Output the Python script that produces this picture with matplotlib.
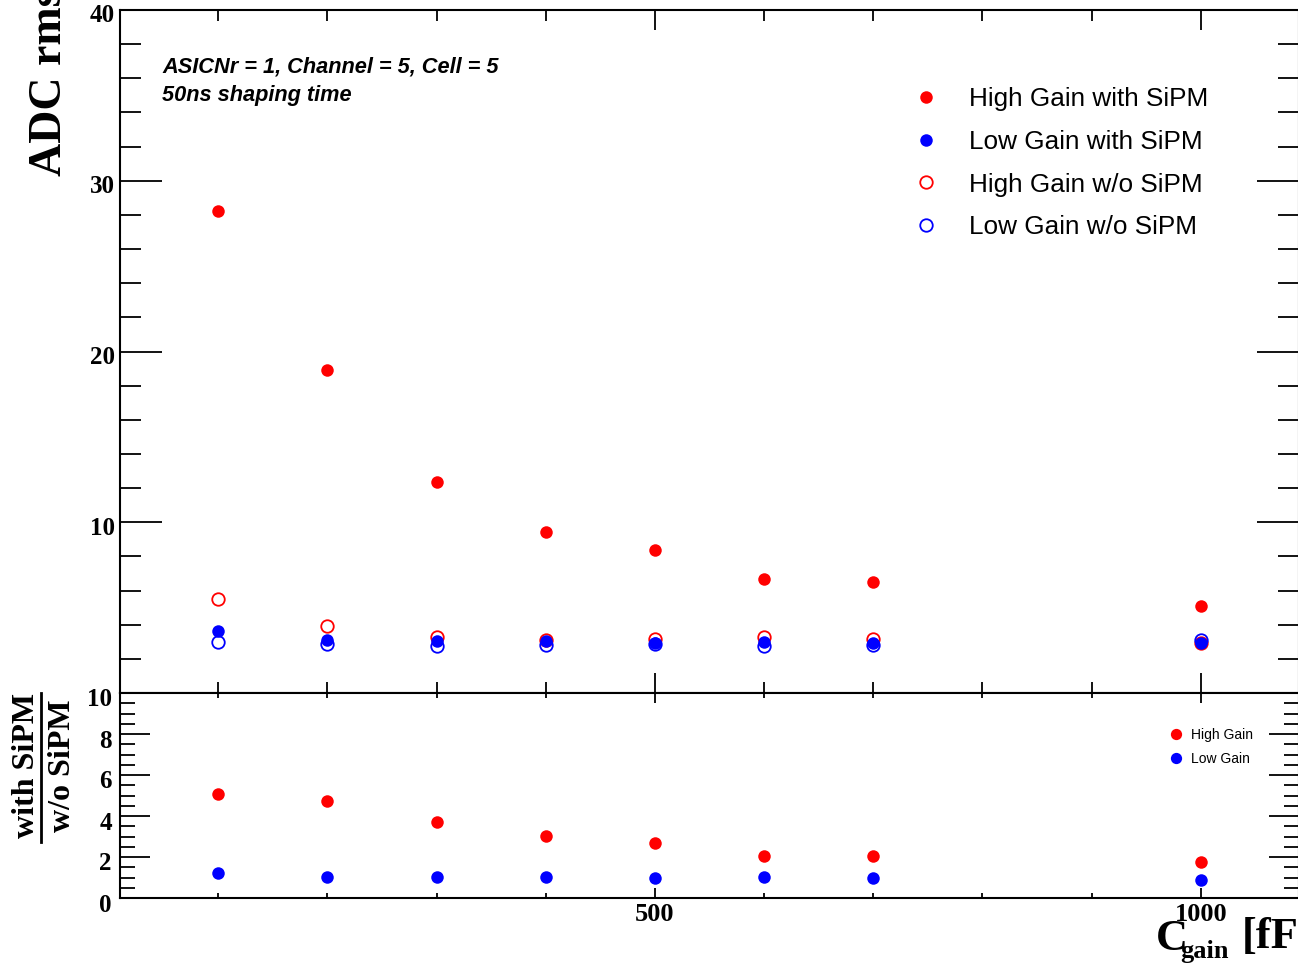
import matplotlib
matplotlib.use('Agg')
import matplotlib.pyplot as plt
from matplotlib.transforms import ScaledTranslation, blended_transform_factory
from matplotlib.ticker import MultipleLocator
from matplotlib.lines import Line2D

# ---------------- data ----------------
c_gain = [100, 200, 300, 400, 500, 600, 700, 1000]
hg_with = [28.2, 18.9, 12.35, 9.4, 8.35, 6.7, 6.53, 5.1]
lg_with = [3.65, 3.08, 3.04, 3.04, 2.94, 3.0, 2.94, 2.94]
hg_wo = [5.53, 3.94, 3.29, 3.10, 3.14, 3.28, 3.14, 2.94]
lg_wo = [2.98, 2.86, 2.76, 2.82, 2.88, 2.75, 2.84, 3.08]
ratio_hg = [5.06, 4.73, 3.71, 3.02, 2.68, 2.05, 2.05, 1.76]
ratio_lg = [1.23, 1.02, 1.02, 1.02, 0.98, 1.02, 0.98, 0.88]

upper_yticks = [10, 20, 30, 40]
lower_yticks = [0, 2, 4, 6, 8, 10]
x_ticks = [500, 1000]
x_ticklabels = ['500', '1000']

upper_labels = ['High Gain with SiPM', 'Low Gain with SiPM',
                'High Gain w/o SiPM', 'Low Gain w/o SiPM']
lower_labels = ['High Gain', 'Low Gain']

RED = '#ff0000'
BLUE = '#0000ff'
SERIF = 'Liberation Serif'
SANS = 'Liberation Sans'

W, H = 1298, 967
fig = plt.figure(figsize=(W / 100, H / 100), dpi=100)

def fx(px):
    return px / W

def fy(py):
    return 1 - py / H

ax1 = fig.add_axes([fx(120), fy(693), fx(1299) - fx(120), fy(10) - fy(693)])
ax2 = fig.add_axes([fx(120), fy(898), fx(1299) - fx(120), fy(693) - fy(898)])

for ax in (ax1, ax2):
    ax.set_xlim(10, 1090)
    for s in ax.spines.values():
        s.set_linewidth(1.5)
    ax.xaxis.set_major_locator(MultipleLocator(500))
    ax.xaxis.set_minor_locator(MultipleLocator(100))
    ax.tick_params(which='both', direction='in', top=True, right=True,
                   labelleft=False, width=1.3)

ax1.set_ylim(0, 40)
ax1.yaxis.set_major_locator(MultipleLocator(10))
ax1.yaxis.set_minor_locator(MultipleLocator(2))
ax1.tick_params(axis='y', which='major', length=30)
ax1.tick_params(axis='y', which='minor', length=15)
ax1.tick_params(axis='x', which='major', length=14.4)
ax1.tick_params(axis='x', which='minor', length=8)
ax1.tick_params(labelbottom=False)

ax2.set_ylim(0, 10)
ax2.yaxis.set_major_locator(MultipleLocator(2))
ax2.yaxis.set_minor_locator(MultipleLocator(0.5))
ax2.tick_params(axis='y', which='major', length=21.6)
ax2.tick_params(axis='y', which='minor', length=10.8)
ax2.tick_params(axis='x', which='major', length=7.2, pad=3.5)
ax2.tick_params(axis='x', which='minor', length=3.6)
ax2.set_xticks(x_ticks, x_ticklabels)
for lab in ax2.get_xticklabels():
    lab.set_fontfamily(SERIF)
    lab.set_fontweight('bold')
    lab.set_fontsize(19)

# ---------------- upper panel points ----------------
ms = 9
l3, = ax1.plot(c_gain, hg_wo, 'o', ls='none', mfc='none', mec=RED, mew=1.3, ms=ms, label=upper_labels[2])
l4, = ax1.plot(c_gain, lg_wo, 'o', ls='none', mfc='none', mec=BLUE, mew=1.3, ms=ms, label=upper_labels[3])
l1, = ax1.plot(c_gain, hg_with, 'o', ls='none', mfc=RED, mec=RED, mew=0, ms=ms, label=upper_labels[0])
l2, = ax1.plot(c_gain, lg_with, 'o', ls='none', mfc=BLUE, mec=BLUE, mew=0, ms=ms, label=upper_labels[1])

leg1 = ax1.legend(handles=[l1, l2, l3, l4], loc='upper left',
                  bbox_to_anchor=(fx(913), fy(87)), bbox_transform=fig.transFigure,
                  frameon=False, numpoints=1, handlelength=1.0, handletextpad=1.15,
                  labelspacing=0.72, borderpad=0, borderaxespad=0,
                  prop={'family': SANS, 'size': 18.8})

# ---------------- lower panel points ----------------
r1, = ax2.plot(c_gain, ratio_hg, 'o', ls='none', mfc=RED, mec=RED, mew=0, ms=ms, label=lower_labels[0])
r2, = ax2.plot(c_gain, ratio_lg, 'o', ls='none', mfc=BLUE, mec=BLUE, mew=0, ms=ms, label=lower_labels[1])
leg2 = ax2.legend(handles=[r1, r2], loc='upper left',
                  bbox_to_anchor=(fx(1169), fy(728)), bbox_transform=fig.transFigure,
                  frameon=False, numpoints=1, handlelength=1.0, handletextpad=0.55,
                  labelspacing=0.72, borderpad=0, borderaxespad=0, markerscale=0.9,
                  prop={'family': SANS, 'size': 10})

# ---------------- y tick labels (ROOT-like offset) ----------------
def ylabels(ax, ticks, dx, dy, size):
    tr = blended_transform_factory(ax.transAxes, ax.transData) + \
        ScaledTranslation(-dx / 100, -dy / 100, fig.dpi_scale_trans)
    for t in ticks:
        ax.text(0, t, str(t), transform=tr, ha='right', va='center',
                family=SERIF, weight='bold', fontsize=size, clip_on=False)

ylabels(ax1, upper_yticks, 5, 6, 18)
ylabels(ax2, lower_yticks, 8, 7, 18)

# ---------------- texts ----------------
ax1.text(fx(162), fy(67), 'ASICNr = 1, Channel = 5, Cell = 5', transform=fig.transFigure,
         ha='left', va='center', family=SANS, style='italic', weight='bold', fontsize=15.7)
ax1.text(fx(162), fy(95), '50ns shaping time', transform=fig.transFigure,
         ha='left', va='center', family=SANS, style='italic', weight='bold', fontsize=15.7)

fig.text(fx(50), fy(176), 'ADC rms', rotation=90, ha='center', va='bottom',
         family=SERIF, weight='bold', fontsize=33)

fig.text(fx(26), fy((693 + 838) / 2), 'with SiPM', rotation=90, ha='center', va='center',
         family=SERIF, weight='bold', fontsize=23)
fig.add_artist(Line2D([fx(41), fx(41)], [fy(693), fy(842)], transform=fig.transFigure,
                      color='black', lw=2))
fig.text(fx(62), fy((698 + 833) / 2), 'w/o SiPM', rotation=90, ha='center', va='center',
         family=SERIF, weight='bold', fontsize=23)

fig.text(fx(1156), fy(950), 'C', ha='left', va='baseline',
         family=SERIF, weight='bold', fontsize=32)
fig.text(fx(1180), fy(958), 'gain', ha='left', va='baseline',
         family=SERIF, weight='bold', fontsize=19)
fig.text(fx(1242), fy(948), '[fF]', ha='left', va='baseline',
         family=SERIF, weight='bold', fontsize=32)

fig.savefig('out.png', dpi=100)
